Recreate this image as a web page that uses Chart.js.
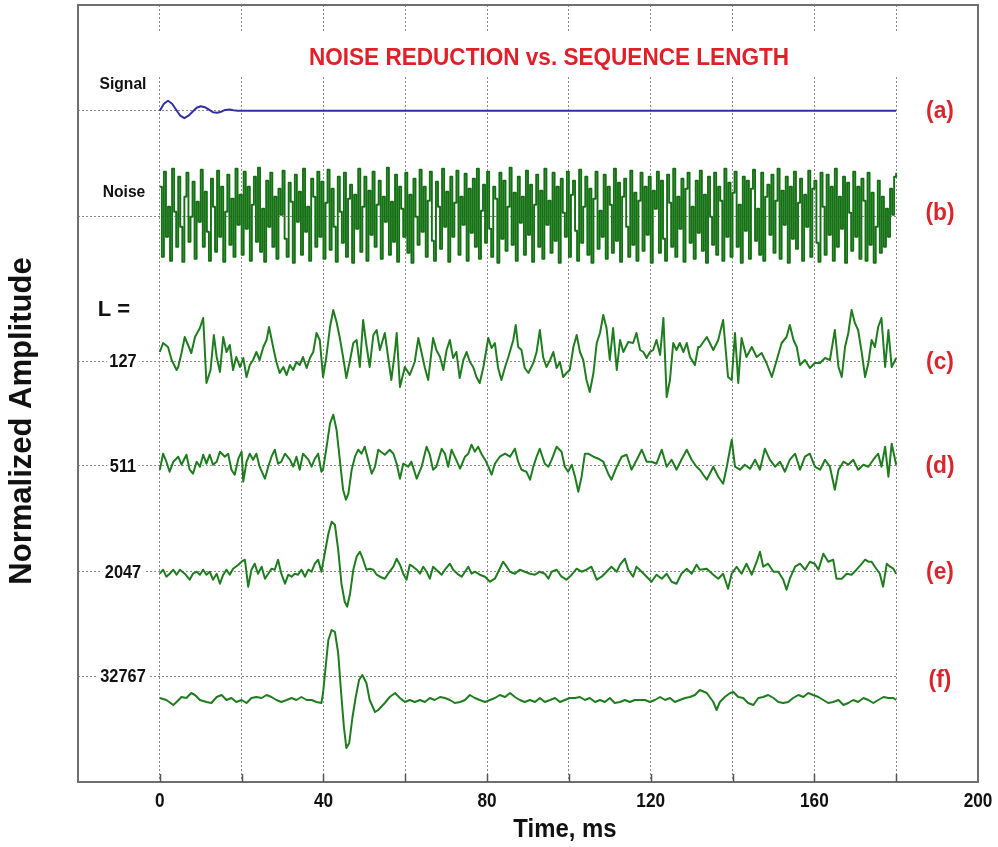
<!DOCTYPE html>
<html>
<head>
<meta charset="utf-8">
<script src="https://cdn.jsdelivr.net/npm/chart.js@4.4.0/dist/chart.umd.min.js"></script>
<style>
  html, body { margin: 0; background: #fff; }
  #wrap { width: 998px; height: 847px; }
</style>
</head>
<body>
<div id="wrap"><canvas id="chart" width="998" height="847"></canvas></div>
<script>
// Baseline of each trace on the amplitude axis (0 = bottom of the frame)
const levelValues = [671.3, 565.3, 421, 316.3, 210.3, 106];
const levelLabels = ["Signal", "Noise", "127", "511", "2047", "32767"];
const panelTags = ["(a)", "(b)", "(c)", "(d)", "(e)", "(f)"];
const xTickLabels = [0, 40, 80, 120, 160, 200];

// (a) clean signal: a short decaying ring at t = 0
const signalTimes = [0, 1, 2, 3, 4, 5, 6, 7, 8, 9, 10, 11, 12, 13, 14, 15, 16, 17, 18, 19, 20, 180];
const signalValues = [0, 7, 10, 7, 1, -5, -7.5, -5, -1, 3, 4.5, 3.5, 1, -1.5, -2, -1, 0.8, 1.2, 0.5, 0, 0, 0];

// (b) raw noise, one reading every 0.5 ms from 0 to 180 ms
const NOISE_STEP_MS = 0.5;
const noiseValues = [
  30, -40, 45, -20, 10, -44, 48, 5, -30, 40, -10, -45, 20, 44, -25, 0, 35, -42, 15, -5,
  47, -30, 25, -15, -44, 38, 10, -35, 46, -20, 30, -45, 5, 42, -28, 18, -40, 48, -8, 22,
  -38, 45, -12, 30, -44, 12, 40, -25, 49, -35, 8, -45, 36, -10, 44, -30, 20, -42, 28, 2,
  46, -22, -40, 34, 15, -46, 42, -5, 25, -38, 48, -15, 10, -44, 38, 20, -30, 45, -20, 35,
  -42, 14, 47, -33, 28, -10, -45, 40, 5, -26, 44, -40, 18, 32, -46, 22, -12, 48, -35, 10,
  40, -44, 26, -18, 45, -30, 12, 36, -42, 20, -5, 49, -38, 15, -25, 42, -45, 30, 8, -20,
  44, -36, 22, -46, 38, 0, -28, 47, -15, 30, -40, 16, 45, -24, -44, 35, 10, -32, 48, -10,
  25, -45, 40, -20, 14, 46, -38, 20, -8, 43, -44, 28, -16, 38, -30, 48, -42, 6, 32, -26,
  45, -12, -40, 30, 18, -46, 44, -22, 36, -34, 10, 49, -28, 24, -44, 40, -6, 20, -38, 46,
  -18, 32, -45, 12, 42, -30, 26, -42, 48, -8, 16, -36, 44, -24, 30, -46, 38, 4, -20, 45,
  -40, 22, 36, -14, -44, 47, -26, 10, 40, -38, 28, -46, 18, 45, -32, 6, -20, 42, -42, 30,
  12, -36, 48, -24, 34, -45, 20, 38, -10, -40, 46, -28, 24, -44, 16, 44, -34, 30, -18, 40,
  -46, 26, 8, 45, -36, 36, -22, -44, 42, 14, -30, 48, -40, 20, -12, 38, -45, 28, 44, -26,
  10, -42, 36, -16, 46, -34, 22, -46, 40, 0, -28, 44, -38, 30, 16, -44, 48, -20, 34, -40,
  24, 45, -30, 12, -46, 40, -14, 36, -42, 28, 47, -24, 8, -38, 44, -44, 20, 32, -18, 42,
  -36, 16, 48, -42, 26, -8, 40, -46, 30, -22, 45, -32, 14, 38, -44, 22, -10, 46, -40, 28,
  36, -26, -45, 44, 10, -38, 42, -18, 30, -44, 48, -30, 20, -12, 40, -46, 34, 4, -34, 45,
  -20, 30, -42, 38, 16, -44, 44, -28, 24, -46, -10, 36, -36, 20, -30, 8, -20, 28, 2, 40,
  44
];

// (c) L = 127
const cTimes = [0, 0.8, 2, 2.9, 4.1, 4.5, 5.3, 6.1, 6.9, 7.7, 8.6, 9.8, 10.6, 11.4, 12.4, 13.2, 13.9, 14.7, 15.5, 16.3,
  17.1, 17.9, 18.7, 19.6, 20.4, 21.2, 22, 22.8, 23.6, 24.4, 25.3, 26.1, 26.7, 27.7, 28.5, 29.3, 30.2, 31, 31.8, 32.6,
  33.4, 34.2, 35, 35.9, 36.7, 37.5, 38.3, 39.1, 39.9, 40.7, 41.6, 42.4, 43.2, 44, 44.8, 45.6, 46.5, 47.3, 48.1, 48.9,
  49.7, 50.5, 51.3, 52.2, 53, 53.8, 55, 55.8, 56.6, 57.5, 57.9, 58.7, 59.9, 61.1, 62.3, 63.2, 64, 64.8, 65.6, 66.8,
  67.6, 68.5, 69.3, 70.1, 70.9, 71.7, 72.5, 73.3, 74.2, 75, 75.8, 76.6, 77.4, 78.2, 79.1, 80.3, 81.1, 81.9, 82.7, 83.5,
  84.4, 85.2, 86.4, 87, 87.6, 88.4, 89.2, 90.1, 91.3, 92.1, 92.9, 93.7, 94.5, 95.4, 96.2, 97, 97.8, 98.6, 99.4, 100.2,
  101.1, 101.9, 102.7, 103.5, 104.3, 105.1, 106, 106.8, 107.6, 108.4, 109.2, 110, 110.8, 111.7, 112.5, 113.3, 114.5, 115.7, 116.5, 117.4,
  118.2, 119, 119.8, 120.6, 121.4, 122.3, 123.1, 123.9, 124.7, 125.5, 126.3, 127.1, 128, 128.8, 129.6, 130.8, 131.6, 132, 133.7, 135.3,
  136.5, 137.7, 138.9, 139.8, 140.6, 141.4, 142.2, 143.4, 144.7, 145.9, 147.1, 148.3, 149.6, 150.8, 152, 153.2, 154, 154.9, 155.7, 156.5,
  157.7, 158.9, 160.1, 161.4, 162.6, 163.8, 165, 165.9, 166.7, 167.5, 168.3, 169.1, 169.9, 170.7, 171.6, 172.4, 173.2, 174, 174.8, 175.6,
  176.4, 177.3, 178.1, 178.9, 180];
const cValues = [9, 18, 14, 1, -9, -6, 8, 24, 16, 8, 24, 33, 43, -22, -9, 26, 4, -11, 24, 9,
  16, -9, 4, -6, 3, -16, -4, 1, 9, 1, 14, 21, 34, 14, -1, -12, -6, -14, -4, -9,
  -1, -4, 4, -7, 3, 9, 28, 21, -16, 4, 34, 51, 39, 23, 4, -17, 1, 18, 21, -6,
  41, 16, -6, 26, 31, 11, 28, 4, -19, 11, 28, -26, -6, -14, -1, 23, 8, -7, -19, 23,
  11, 4, -9, 11, 21, 3, 9, -17, 1, 9, -1, -6, -16, -22, -6, 23, 13, 18, -7, -19,
  -6, 4, 21, 36, 14, 11, -7, -12, -2, 9, 31, 4, -6, 1, 9, -7, -1, -16, -12, -9,
  14, 26, 9, 1, -19, -31, -12, 18, 28, 46, 33, 1, 33, -9, 21, 9, 19, 18, 28, 11,
  9, 3, 9, 11, 21, 6, 43, -36, -19, 18, 11, 18, 9, 18, 4, -4, 14, 14, 24, 11,
  21, 41, -16, -19, 28, -22, 23, 4, 14, 4, 8, -2, -16, 1, 18, 24, 36, 21, 14, -4,
  1, -7, -2, -2, 3, 1, 31, -6, -16, 14, 28, 51, 38, 31, 8, -16, -2, 21, 14, 34,
  43, -6, 31, -6, 3];

// (d) L = 511
const dTimes = [0, 0.8, 1.6, 2.4, 3.3, 4.5, 5.3, 6.5, 7.3, 8.1, 9, 9.8, 10.6, 11.4, 12.2, 13, 13.9, 14.7, 15.9, 16.7,
  17.5, 18.3, 19.2, 20, 20.4, 21.2, 22, 22.8, 23.6, 24.4, 25.7, 26.5, 27.3, 28.1, 28.9, 29.7, 30.6, 31.8, 32.6, 33.4,
  34.2, 35, 36.3, 37.1, 37.9, 38.7, 39.5, 39.9, 40.7, 41.6, 42.4, 43.2, 44, 44.8, 45.5, 46.1, 46.9, 47.7, 48.5, 49.3,
  50.1, 50.9, 51.8, 52.6, 53.4, 55, 56.2, 57.1, 57.9, 58.7, 59.5, 60.7, 61.5, 62.8, 64, 65.2, 66, 66.8, 67.6, 68.9,
  69.7, 70.5, 71.3, 72.1, 73.4, 74.6, 75.4, 76.2, 77, 77.8, 78.6, 79.5, 80.3, 81.1, 81.9, 83.1, 84.4, 85.6, 86.8, 87.6,
  88.4, 89.6, 90.5, 91.3, 92.1, 92.9, 94.1, 95, 95.8, 97, 98.2, 99, 99.8, 100.7, 101.5, 102.3, 103.1, 103.9, 104.7, 106,
  107.2, 108.4, 109.6, 110.4, 111.7, 112.9, 114.1, 115.3, 116.6, 117.8, 119, 120.2, 121.4, 122.7, 123.9, 125.1, 126.3, 127.5, 128.8, 130,
  131.2, 132, 133.7, 135.3, 136.5, 137.7, 138.6, 139.8, 140.6, 141.8, 143, 144.3, 145.5, 146.7, 147.9, 149.1, 150.4, 151.6, 152.8, 154,
  155.3, 156.5, 157.7, 158.9, 160.1, 161.4, 162.6, 163.8, 165, 165.9, 167.1, 168.3, 169.5, 170.7, 172, 173.2, 174.4, 175.6, 176.4, 177.3,
  178.1, 178.9, 180];
const dValues = [-4, 12, 4, -6, 4, 9, 1, 11, -4, -8, 4, -1, 11, 2, 11, 1, 4, 14, 9, 12,
  -4, -9, 7, 14, -16, 4, 12, 6, 12, -1, -13, -1, 9, 16, 2, 4, 12, 6, -1, 9,
  -4, 12, 6, -1, 7, 12, -6, -4, 17, 42, 51, 36, 6, -24, -34, -28, -4, 9, 16, 12,
  19, 6, -8, -1, 16, 11, 16, 12, 2, -13, 2, -1, 4, -13, -1, 19, 11, -4, -1, 17,
  12, -1, 16, 9, -3, 9, 12, 21, 14, 19, 12, 6, -1, -9, 2, 9, 12, 9, 17, 4,
  -4, -6, -14, -1, 9, 17, 2, -1, 6, 19, 14, -1, -6, 1, -11, -26, -11, 12, 12, 9,
  7, 4, -8, -14, -1, 9, 11, -4, 6, 16, 4, 4, 2, 16, -1, 6, -4, 6, 16, 6,
  -1, -4, -14, -1, -11, -18, -1, 26, -1, -4, 1, -3, 6, -4, 17, 6, -1, 4, -6, 6,
  12, -4, 9, 12, -1, -4, 6, -1, -24, -4, 4, 1, 6, -4, 1, -1, 6, 12, -1, 19,
  -11, 22, 1];

// (e) L = 2047
const eTimes = [0, 0.8, 1.6, 2.4, 3.3, 4.1, 4.9, 6.1, 7.3, 8.1, 9, 9.8, 10.6, 11.4, 12.2, 13, 13.9, 14.7, 15.5, 16.3,
  17.1, 17.9, 19.2, 20, 20.8, 21.6, 22.4, 23.2, 24, 24.9, 25.7, 26.5, 27.3, 28.1, 28.9, 29.7, 30.6, 31.4, 32.2, 33,
  33.8, 34.6, 35.5, 36.3, 37.1, 37.9, 38.7, 39.5, 40.3, 41.2, 42, 42.8, 43.6, 44.4, 45.2, 45.8, 46.5, 47.3, 48.1, 48.9,
  49.7, 50.5, 51.3, 52.2, 53, 53.8, 55, 55.8, 57.1, 57.9, 58.7, 59.5, 60.3, 61.1, 61.9, 62.8, 63.6, 64.4, 65.2, 66,
  66.8, 68.1, 68.9, 69.7, 70.9, 71.7, 73, 73.8, 74.6, 75.4, 76.2, 77, 78.2, 79.5, 80.7, 81.9, 83.1, 83.9, 84.8, 85.6,
  86.8, 88, 89.2, 90.5, 91.7, 92.9, 94.1, 95, 95.8, 97, 98.2, 99.4, 100.7, 101.9, 103.1, 104.3, 105.5, 106.8, 108, 109.2,
  110.4, 111.7, 112.5, 113.7, 114.5, 115.7, 116.5, 117.8, 119, 120.2, 121.4, 122.7, 123.9, 125.1, 126.3, 127.5, 128.8, 130, 131.2, 132,
  133.7, 135.3, 136.5, 137.7, 138.9, 139.8, 141, 142.2, 143.4, 144.7, 145.9, 146.7, 147.5, 148.7, 150, 151.2, 152.4, 153.2, 154, 155.3,
  156.5, 157.7, 158.9, 160.1, 161, 162.2, 163.4, 164.6, 165.4, 166.7, 167.9, 169.1, 170.3, 171.6, 172.4, 173.2, 174, 174.8, 176, 176.8,
  177.7, 178.5, 179.3, 180];
const eValues = [-2, 2, -5, -2, 2, -3, 2, -2, -8, -2, 0, -3, 2, -3, 0, -8, -2, -12, -3, 2,
  -3, 3, 7, 10, 12, -15, 2, 8, -2, 5, -7, -2, 3, 2, 12, -2, -12, -3, -5, -2,
  -3, 2, -5, 2, 0, 8, 12, 0, 18, 38, 50, 47, 22, -12, -30, -35, -22, 2, 15, 20,
  12, 2, 3, 2, -3, -5, -7, -2, 5, 13, 7, -2, -8, 7, 5, 2, -2, 5, 0, -7,
  5, 0, -3, 2, 8, 2, -3, -5, 0, 5, -2, 0, -3, -5, -10, -7, 3, 10, 5, 0,
  -2, 2, 0, -2, -3, 0, -2, -7, 0, 2, -5, -8, -3, 3, 0, 2, 5, -8, -5, 0,
  5, 0, 7, 13, 2, -5, 5, 0, -5, -10, -3, -7, -2, -10, -12, -2, 3, -2, 7, 2,
  3, -3, -7, -2, -17, -2, 5, -2, 8, -3, 10, 20, 5, 8, 0, 0, -8, -18, -7, 5,
  8, 2, 10, 8, 2, 18, 10, 12, -7, -7, -2, -3, 2, 8, 12, 10, 10, 5, -2, -15,
  8, 5, 3, -2];

// (f) L = 32767 (offsets from the 32767 grid line)
const fTimes = [0, 1.6, 3.3, 4.1, 5.3, 6.5, 7.7, 8.6, 9.8, 11.4, 12.6, 13.9, 15.1, 16.3, 17.5, 18.7, 20, 21.2, 22.4, 23.6,
  24.9, 26.1, 27.3, 28.5, 29.7, 31, 32.2, 33.4, 34.6, 35.9, 37.1, 38.3, 39.5, 39.9, 40.7, 41.2, 42, 42.8, 43.6, 44.4,
  45, 45.6, 46.3, 47.1, 47.9, 48.7, 49.5, 50.5, 51.3, 52.6, 53.4, 55, 56.2, 57.5, 58.7, 59.9, 61.1, 62.3, 63.6, 64.8,
  66, 67.2, 68.5, 69.7, 70.9, 72.1, 73.4, 74.6, 75.8, 77, 78.2, 79.5, 80.7, 81.9, 83.1, 84.4, 85.6, 86.8, 88, 89.2,
  90.5, 91.7, 92.9, 94.1, 95.4, 96.6, 97.8, 99, 100.2, 101.5, 102.7, 103.9, 105.1, 106.4, 107.6, 108.8, 110, 111.2, 112.5, 113.7,
  114.9, 116.1, 117.4, 118.6, 119.8, 121, 122.3, 123.5, 124.7, 125.9, 127.1, 128.4, 129.6, 130.8, 132, 133.7, 135.3, 136.1, 136.9, 138.1,
  139.4, 140.2, 141.4, 142.6, 143.8, 145.1, 146.3, 147.5, 148.7, 150, 151.2, 152.4, 153.6, 154.8, 156.1, 157.3, 158.5, 159.7, 161, 162.2,
  163.4, 164.6, 165.9, 167.1, 168.3, 169.5, 170.7, 172, 173.2, 174.4, 175.6, 176.9, 178.1, 179.3, 180];
const fValues = [-22, -24, -29, -26, -21, -22, -17, -19, -24, -26, -27, -21, -19, -24, -22, -26, -24, -27, -22, -21,
  -22, -19, -21, -24, -26, -24, -22, -24, -21, -24, -24, -26, -27, -17, 16, 36, 46, 44, 23, -21,
  -51, -72, -67, -41, -21, -4, 1, -7, -24, -36, -34, -27, -21, -17, -22, -26, -24, -26, -24, -26,
  -22, -24, -21, -22, -24, -27, -26, -24, -19, -22, -24, -26, -24, -22, -19, -21, -17, -21, -24, -26,
  -24, -26, -22, -26, -24, -22, -26, -24, -22, -22, -21, -24, -22, -26, -24, -26, -22, -27, -26, -24,
  -26, -24, -24, -24, -26, -24, -21, -24, -22, -26, -24, -22, -21, -19, -14, -17, -26, -34, -26, -21,
  -17, -16, -21, -22, -27, -29, -22, -21, -19, -22, -26, -27, -26, -22, -19, -21, -17, -19, -21, -24,
  -27, -26, -24, -29, -27, -24, -26, -22, -24, -27, -24, -21, -22, -22, -24];

const FONT = '"Liberation Sans", Arial, Helvetica, sans-serif';
const GREEN = "#1f7d1f";

function toPoints(times, values, base) {
  return times.map((t, i) => ({ x: t, y: base + values[i] }));
}

const noisePoints = noiseValues.map((v, i) => ({ x: i * NOISE_STEP_MS, y: levelValues[1] + v }));

function trace(label, points, color, width, stepped) {
  return {
    label, data: points, borderColor: color, borderWidth: width,
    pointRadius: 0, tension: 0, fill: false, borderJoinStyle: "round",
    stepped: stepped || false
  };
}

// draws a text, optionally squeezed horizontally and/or rotated, with a white box behind
function drawText(ctx, text, x, y, o) {
  ctx.save();
  ctx.translate(x, y);
  if (o.rotate) ctx.rotate(o.rotate);
  ctx.scale(o.squeeze || 1, 1);
  ctx.font = o.font;
  ctx.textAlign = o.align || "center";
  ctx.textBaseline = "middle";
  if (o.bg) {
    const w = ctx.measureText(text).width;
    const x0 = o.align === "left" ? 0 : -w / 2;
    ctx.fillStyle = "#fff";
    ctx.fillRect(x0 - 3, -o.bgH / 2, w + 6, o.bgH);
  }
  ctx.fillStyle = o.color || "#111";
  ctx.fillText(text, 0, 0);
  ctx.restore();
}

const decor = {
  id: "decor",
  beforeDatasetsDraw(chart) {
    const { ctx, chartArea: a } = chart;
    const xs = chart.scales.x;
    ctx.save();
    ctx.fillStyle = "#fff";
    // the grid is interrupted behind the title
    ctx.fillRect(a.left + 1, 33, a.right - a.left - 2, 44);
    // and stops at the last sample (180 ms)
    const xEnd = xs.getPixelForValue(180);
    ctx.fillRect(xEnd + 2, a.top + 1, a.right - xEnd - 3, a.bottom - a.top - 2);
    ctx.restore();
  },
  afterDatasetsDraw(chart) {
    const { ctx, chartArea: a } = chart;
    const xs = chart.scales.x, ys = chart.scales.y;

    // frame
    ctx.save();
    ctx.strokeStyle = "#6f6f6f";
    ctx.lineWidth = 2;
    ctx.strokeRect(a.left, a.top, a.right - a.left, a.bottom - a.top);
    // short inner ticks along the bottom
    ctx.lineWidth = 1.5;
    ctx.strokeStyle = "#555";
    for (let v = 0; v < 200; v += 20) {
      const px = Math.round(xs.getPixelForValue(v)) + 0.5;
      ctx.beginPath();
      ctx.moveTo(px, a.bottom);
      ctx.lineTo(px, a.bottom - 8);
      ctx.stroke();
    }
    ctx.restore();

    // title
    drawText(ctx, "NOISE REDUCTION vs. SEQUENCE LENGTH", 549, 58,
      { font: "bold 24px " + FONT, color: "#e01f28", squeeze: 0.94 });

    // trace names on the left, inside the frame
    const labelX = xs.getPixelForValue(-9);
    drawText(ctx, levelLabels[0], labelX, ys.getPixelForValue(levelValues[0]) - 26,
      { font: "bold 17px " + FONT, squeeze: 0.92 });
    drawText(ctx, levelLabels[1], labelX + 1, ys.getPixelForValue(levelValues[1]) - 24,
      { font: "bold 17px " + FONT, squeeze: 0.92 });
    drawText(ctx, "L =", labelX - 9, 310, { font: "bold 22px " + FONT });
    for (let i = 2; i < levelLabels.length; i++) {
      drawText(ctx, levelLabels[i], labelX, ys.getPixelForValue(levelValues[i]) + 1,
        { font: "bold 19px " + FONT, squeeze: 0.86, bg: true, bgH: 12 });
    }

    // panel tags on the right
    const tagX = 940;
    panelTags.forEach((t, i) => {
      const dy = i === 1 ? -3 : (i === 5 ? 4 : 1);
      drawText(ctx, t, tagX, ys.getPixelForValue(levelValues[i]) + dy,
        { font: "bold 24px " + FONT, color: "#d8262c", squeeze: 0.95 });
    });

    // x tick labels and axis titles
    xTickLabels.forEach(v => {
      drawText(ctx, String(v), xs.getPixelForValue(v), 801,
        { font: "bold 21px " + FONT, squeeze: 0.82 });
    });
    drawText(ctx, "Time, ms", 565, 830, { font: "bold 26px " + FONT, squeeze: 0.92 });
    drawText(ctx, "Normalized Amplitude", 22, 421,
      { font: "bold 31px " + FONT, rotate: -Math.PI / 2, squeeze: 1 });
  }
};

const dotted = { color: "#8c8c8c", lineWidth: 1, drawTicks: false };

new Chart(document.getElementById("chart"), {
  type: "line",
  data: {
    datasets: [
      trace("Signal", toPoints(signalTimes, signalValues, levelValues[0]), "#2f2fa8", 2),
      trace("Noise", noisePoints, "#137013", 1.9, true),
      trace("127", toPoints(cTimes, cValues, levelValues[2]), GREEN, 2),
      trace("511", toPoints(dTimes, dValues, levelValues[3]), GREEN, 2),
      trace("2047", toPoints(eTimes, eValues, levelValues[4]), GREEN, 2),
      trace("32767", toPoints(fTimes, fValues, levelValues[5]), GREEN, 2)
    ]
  },
  options: {
    responsive: false,
    animation: false,
    devicePixelRatio: 1,
    layout: { padding: { top: 5, right: 20, bottom: 65, left: 78 } },
    plugins: { legend: { display: false }, tooltip: { enabled: false } },
    scales: {
      x: {
        type: "linear", min: -20, max: 200,
        ticks: { display: false, stepSize: 20 },
        grid: dotted,
        border: { display: false, dash: [2, 2] }
      },
      y: {
        type: "linear", min: 0, max: 777,
        afterBuildTicks: s => { s.ticks = levelValues.map(v => ({ value: v })); },
        ticks: { display: false },
        grid: dotted,
        border: { display: false, dash: [2, 2] }
      }
    }
  },
  plugins: [decor]
});
</script>
</body>
</html>
